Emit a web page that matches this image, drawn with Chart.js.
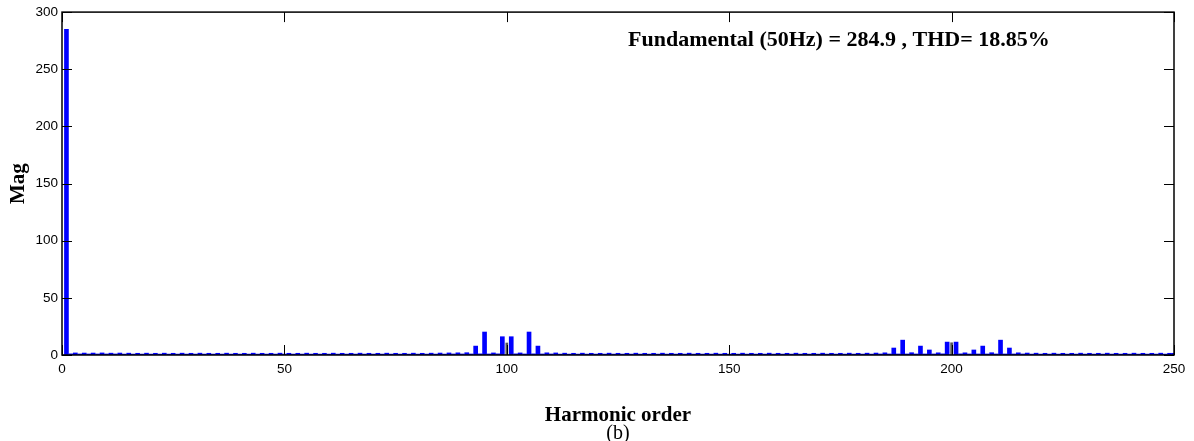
<!DOCTYPE html>
<html>
<head>
<meta charset="utf-8">
<title>Harmonic spectrum</title>
<script src="https://cdn.jsdelivr.net/npm/chart.js@4.4.1/dist/chart.umd.min.js"></script>
<style>
  html, body { margin: 0; padding: 0; background: #fff; }
  #wrap { width: 1194px; height: 441px; }
</style>
</head>
<body>
<div id="wrap"><canvas id="fftChart" width="1194" height="441"></canvas></div>
<script>
// Spectrum of the output voltage, orders 0..250 (index = harmonic order)
const magnitudes = [
  0, 284.9, 1.0, 1.8, 0.9, 1.7, 0.9, 1.7, 0.9, 1.8,
  0.9, 1.6, 0.9, 1.7, 0.8, 1.6, 0.8, 1.5, 0.8, 1.6,
  0.8, 1.5, 0.8, 1.6, 0.8, 1.5, 0.8, 1.6, 0.8, 1.5,
  0.8, 1.6, 0.8, 1.5, 0.8, 1.5, 0.8, 1.6, 0.8, 1.5,
  0.8, 1.5, 0.8, 1.6, 0.8, 1.5, 0.8, 1.5, 0.8, 1.6,
  0.8, 1.5, 0.8, 1.5, 0.8, 1.6, 0.8, 1.5, 0.8, 1.5,
  0.8, 1.6, 0.8, 1.5, 0.8, 1.5, 0.8, 1.6, 0.8, 1.5,
  0.8, 1.5, 0.8, 1.6, 0.8, 1.5, 0.8, 1.5, 0.8, 1.6,
  0.8, 1.5, 0.8, 1.6, 0.8, 1.7, 0.8, 1.8, 0.9, 1.9,
  0.9, 2.0, 0.9, 7.8, 1.0, 20.1, 0.9, 1.8, 1.0, 16.0,
  0, 16.0, 1.0, 1.8, 0.9, 20.1, 1.0, 7.8, 0.9, 1.9,
  0.9, 1.8, 0.8, 1.6, 0.8, 1.5, 0.8, 1.6, 0.8, 1.5,
  0.8, 1.5, 0.8, 1.6, 0.8, 1.5, 0.8, 1.5, 0.8, 1.6,
  0.8, 1.5, 0.8, 1.5, 0.8, 1.6, 0.8, 1.5, 0.8, 1.5,
  0.8, 1.6, 0.8, 1.5, 0.8, 1.5, 0.8, 1.6, 0.8, 1.5,
  0.8, 1.5, 0.8, 1.6, 0.8, 1.5, 0.8, 1.5, 0.8, 1.6,
  0.8, 1.5, 0.8, 1.5, 0.8, 1.6, 0.8, 1.5, 0.8, 1.5,
  0.8, 1.6, 0.8, 1.5, 0.8, 1.5, 0.8, 1.6, 0.8, 1.5,
  0.8, 1.6, 0.8, 1.7, 0.9, 1.9, 0.9, 6.1, 0.9, 13.0,
  0.9, 2.0, 0.9, 7.8, 0.9, 4.4, 0.9, 1.9, 1.0, 11.3,
  0, 11.3, 1.0, 1.9, 0.9, 4.4, 0.9, 7.8, 0.9, 2.0,
  0.9, 13.0, 0.9, 6.1, 0.9, 1.9, 0.9, 1.7, 0.8, 1.6,
  0.8, 1.5, 0.8, 1.6, 0.8, 1.5, 0.8, 1.5, 0.8, 1.6,
  0.8, 1.5, 0.8, 1.5, 0.8, 1.6, 0.8, 1.5, 0.8, 1.5,
  0.8, 1.6, 0.8, 1.5, 0.8, 1.5, 0.8, 1.6, 0.8, 1.5,
  1.5
];

// even components at the switching multiples, drawn as thin dark stems
const carrierOrders = [100, 200];
const carrierMags = [10.5, 10.7];

const xTicks = [0, 50, 100, 150, 200, 250];
const yTicks = [0, 50, 100, 150, 200, 250, 300];

const fundamentalHz = 50;
const thdPercent = 18.85;

const SERIF = '"Liberation Serif", "Times New Roman", serif';
const SANS = '"Liberation Sans", Arial, Helvetica, sans-serif';

// box around the axes with inward ticks on all four sides
const matlabBox = {
  id: 'matlabBox',
  afterDatasetsDraw(chart) {
    const { ctx, chartArea: a, scales: { x, y } } = chart;
    const len = 10;
    ctx.save();
    ctx.strokeStyle = '#000';
    ctx.lineWidth = 1;
    ctx.beginPath();
    xTicks.forEach(v => {
      const px = Math.round(x.getPixelForValue(v)) + 0.5;
      ctx.moveTo(px, a.bottom); ctx.lineTo(px, a.bottom - len);
      ctx.moveTo(px, a.top); ctx.lineTo(px, a.top + len);
    });
    yTicks.forEach(v => {
      const py = Math.round(y.getPixelForValue(v)) + 0.5;
      ctx.moveTo(a.left, py); ctx.lineTo(a.left + len, py);
      ctx.moveTo(a.right, py); ctx.lineTo(a.right - len, py);
    });
    ctx.stroke();
    ctx.lineWidth = 1.5;
    ctx.strokeRect(a.left, a.top, a.right - a.left, a.bottom - a.top);
    ctx.restore();
  },
  afterDraw(chart) {
    const { ctx, chartArea: a } = chart;
    const cx = (a.left + a.right) / 2;
    ctx.save();
    ctx.fillStyle = '#000';
    ctx.textBaseline = 'alphabetic';

    ctx.font = 'bold 22px ' + SERIF;
    ctx.textAlign = 'left';
    ctx.fillText('Fundamental (' + fundamentalHz + 'Hz) = ' + magnitudes[1] + ' , THD= ' + thdPercent + '%', 628, 46);

    ctx.font = 'bold 21px ' + SERIF;
    ctx.textAlign = 'center';
    ctx.fillText('Harmonic order', cx, 421);

    ctx.font = '20px ' + SERIF;
    ctx.fillText('(b)', cx, 439);

    ctx.font = 'bold 21px ' + SERIF;
    ctx.translate(24, (a.top + a.bottom) / 2);
    ctx.rotate(-Math.PI / 2);
    ctx.fillText('Mag', 0, 0);
    ctx.restore();
  }
};

new Chart(document.getElementById('fftChart'), {
  type: 'bar',
  data: {
    datasets: [
      {
        label: 'Mag',
        data: magnitudes.map((m, n) => ({ x: n, y: m })),
        backgroundColor: '#0000ff',
        borderWidth: 0,
        barThickness: 4,
        grouped: false,
        stack: 'spectrum'
      },
      {
        label: 'Carrier',
        data: carrierOrders.map((n, i) => ({ x: n, y: carrierMags[i] })),
        backgroundColor: '#555555',
        borderWidth: 0,
        barThickness: 2,
        grouped: false,
        stack: 'spectrum'
      }
    ]
  },
  options: {
    responsive: false,
    animation: false,
    layout: { padding: { left: 0, top: 11, right: 20, bottom: 0 } },
    plugins: { legend: { display: false }, tooltip: { enabled: false } },
    scales: {
      x: {
        type: 'linear',
        min: 0,
        max: 250,
        offset: false,
        grid: { display: false, drawTicks: false },
        border: { display: false },
        afterBuildTicks: s => { s.ticks = xTicks.map(v => ({ value: v })); },
        afterFit: s => { s.height = 86; },
        ticks: { padding: 6, maxRotation: 0, color: '#000', font: { family: SANS, size: 13.5 } }
      },
      y: {
        min: 0,
        max: 300,
        grid: { display: false, drawTicks: false },
        border: { display: false },
        afterBuildTicks: s => { s.ticks = yTicks.map(v => ({ value: v })); },
        afterFit: s => { s.width = 62; },
        ticks: { padding: 4, color: '#000', font: { family: SANS, size: 13.5 } }
      }
    }
  },
  plugins: [matlabBox]
});
</script>
</body>
</html>
